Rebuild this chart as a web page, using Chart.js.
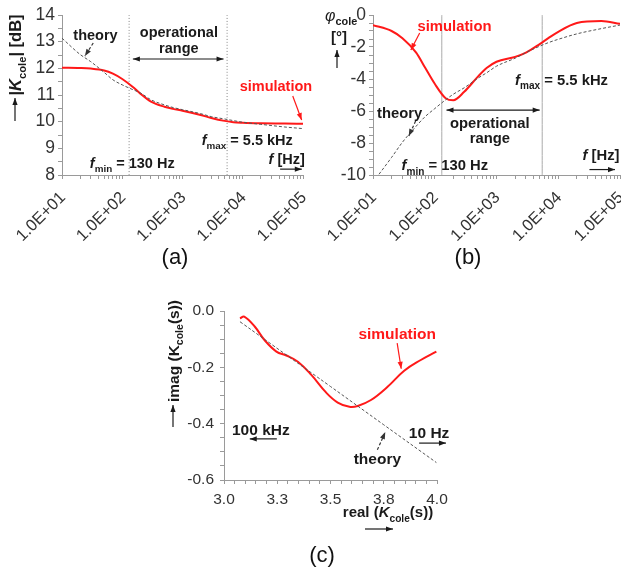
<!DOCTYPE html>
<html>
<head>
<meta charset="utf-8">
<script src="https://cdn.jsdelivr.net/npm/chart.js@4.4.0/dist/chart.umd.min.js"></script>
<style>
  html, body { margin: 0; padding: 0; background: #fff; overflow: hidden; }
  #wrap { position: relative; width: 621px; height: 569px; background: #fff; }
  canvas { position: absolute; }
  .panel { position: absolute; font: 22px "Liberation Sans", Arial, sans-serif; color: #111; transform: translate(-50%, -50%); }
</style>
</head>
<body>
<div id="wrap">
  <canvas id="chartA" width="330" height="250" style="left:0px;top:0px"></canvas>
  <canvas id="chartB" width="311" height="250" style="left:310px;top:0px"></canvas>
  <canvas id="chartC" width="320" height="289" style="left:140px;top:280px"></canvas>
  <div class="panel" style="left:175px;top:257px">(a)</div>
  <div class="panel" style="left:468px;top:257px">(b)</div>
  <div class="panel" style="left:322px;top:555px">(c)</div>
</div>
<script>
const freq = [10, 20, 30, 50, 70, 100, 150, 200, 300, 500, 700, 1000, 2000, 3000, 5000, 7000, 10000, 20000, 50000, 100000];
const magSim    = [12.02, 12.01, 11.99, 11.92, 11.80, 11.60, 11.30, 11.05, 10.75, 10.56, 10.48, 10.41, 10.25, 10.14, 10.03, 9.98, 9.96, 9.94, 9.93, 9.92];
const magTheory = [13.13, 12.52, 12.25, 11.85, 11.57, 11.38, 11.20, 11.08, 10.82, 10.63, 10.53, 10.45, 10.30, 10.19, 10.10, 10.04, 9.98, 9.90, 9.80, 9.74];
const phaseSim    = [-0.63, -1.0, -1.45, -2.35, -3.3, -4.3, -5.2, -5.33, -4.8, -3.85, -3.3, -2.92, -2.62, -2.35, -1.82, -1.43, -1.05, -0.5, -0.38, -0.55];
const phaseTheory = [-10.45, -8.9, -7.95, -6.95, -6.35, -5.85, -5.3, -4.95, -4.55, -3.95, -3.6, -3.2, -2.7, -2.35, -1.95, -1.72, -1.52, -1.18, -0.85, -0.63];

// (c) nyquist
const reSim = [3.075, 3.095, 3.145, 3.19, 3.246, 3.293, 3.347, 3.41, 3.48, 3.534, 3.589, 3.628, 3.69, 3.768, 3.846, 3.924, 3.997];
const imSim = [-0.026, -0.020, -0.056, -0.103, -0.144, -0.158, -0.180, -0.227, -0.290, -0.325, -0.340, -0.337, -0.316, -0.269, -0.212, -0.174, -0.144];
const reTheory = [3.075, 3.3, 3.5, 3.75, 3.997];
const imTheory = [-0.038, -0.160, -0.268, -0.404, -0.538];

const fMin = 130, fMax = 5500;
const decades = [10, 100, 1000, 10000, 100000];
const decadeLabels = ['1.0E+01', '1.0E+02', '1.0E+03', '1.0E+04', '1.0E+05'];
const reTickLabels = ['3.0', '3.3', '3.5', '3.8', '4.0'];

const FONT = '"Liberation Sans", Arial, Helvetica, sans-serif';
const INK = '#1a1a1a';
const RED = 'rgb(255,25,25)';
const AXIS = '#9a9a9a';

const logTicks = [];
decades.forEach(d => {
  for (let k = 1; k <= 9; k++) { if (k * d <= 100000) logTicks.push(k * d); }
});

const pts = (xs, ys) => xs.map((x, i) => ({x: x, y: ys[i]}));

function head(ctx, x1, y1, x2, y2) {
  const a = Math.atan2(y2 - y1, x2 - x1), L = 7, W = 2.6;
  ctx.beginPath();
  ctx.moveTo(x2, y2);
  ctx.lineTo(x2 - L * Math.cos(a) + W * Math.sin(a), y2 - L * Math.sin(a) - W * Math.cos(a));
  ctx.lineTo(x2 - L * Math.cos(a) - W * Math.sin(a), y2 - L * Math.sin(a) + W * Math.cos(a));
  ctx.closePath();
  ctx.fill();
}
function arrow(ctx, a, b, color, dash, both) {
  ctx.save();
  ctx.strokeStyle = color; ctx.fillStyle = color; ctx.lineWidth = 1.2;
  ctx.setLineDash(dash || []);
  ctx.beginPath(); ctx.moveTo(a[0], a[1]); ctx.lineTo(b[0], b[1]); ctx.stroke();
  ctx.setLineDash([]);
  head(ctx, a[0], a[1], b[0], b[1]);
  if (both) head(ctx, b[0], b[1], a[0], a[1]);
  ctx.restore();
}
// segs: [text, style] style letters: b bold, i italic, s subscript
function rich(ctx, p, segs, size, align, color) {
  let w = 0;
  const parts = segs.map(([t, st]) => {
    st = st || 'b';
    const sub = st.includes('s');
    const fs = sub ? size * 0.68 : size;
    const font = (st.includes('i') ? 'italic ' : '') + (st.includes('b') ? 'bold ' : '') + fs + 'px ' + FONT;
    ctx.font = font;
    const tw = ctx.measureText(t).width;
    w += tw;
    return {t: t, font: font, tw: tw, dy: sub ? size * 0.28 : 0};
  });
  let x = align === 'center' ? p[0] - w / 2 : align === 'right' ? p[0] - w : p[0];
  const y = p[1] + size * 0.36;
  ctx.save();
  ctx.fillStyle = color || INK; ctx.textAlign = 'left'; ctx.textBaseline = 'alphabetic';
  parts.forEach(q => { ctx.font = q.font; ctx.fillText(q.t, x, y + q.dy); x += q.tw; });
  ctx.restore();
}
function rotRich(ctx, p, segs, size) {
  ctx.save();
  ctx.translate(p[0], p[1]);
  ctx.rotate(-Math.PI / 2);
  rich(ctx, [0, 0], segs, size, 'center');
  ctx.restore();
}

function overlay(draw) {
  return {
    id: 'overlay',
    afterDatasetsDraw(chart) {
      const sx = chart.scales.x, sy = chart.scales.y;
      const P = (x, y) => [sx.getPixelForValue(x), sy.getPixelForValue(y)];
      draw(chart.ctx, P);
    }
  };
}

function yAxis(min, max, step, width, size, label, pad) {
  return {
    min: min, max: max,
    border: {color: AXIS},
    grid: {drawOnChartArea: false, tickLength: 4, color: AXIS},
    ticks: {stepSize: step, autoSkip: false, padding: pad, color: '#333', font: {family: FONT, size: size}, callback: label},
    afterFit: s => { s.width = width; s.paddingTop = 0; s.paddingBottom = 0; }
  };
}
function logAxis(height) {
  return {
    type: 'logarithmic', min: 10, max: 100000,
    border: {color: AXIS},
    grid: {drawOnChartArea: false, tickLength: 4, color: AXIS},
    afterBuildTicks: s => { s.ticks = logTicks.map(v => ({value: v})); },
    ticks: {
      autoSkip: false, minRotation: 45, maxRotation: 45, padding: 9, labelOffset: 1, color: '#333',
      font: {family: FONT, size: 16.5},
      callback: v => { const i = decades.indexOf(v); return i >= 0 ? decadeLabels[i] : ''; }
    },
    afterFit: s => { s.height = height; s.paddingLeft = 0; s.paddingRight = 0; }
  };
}
function lineSet(data, color, width, dash) {
  return {data: data, borderColor: color, borderWidth: width, borderDash: dash || [], pointRadius: 0,
          cubicInterpolationMode: 'monotone', fill: false};
}
const baseOpts = (pad) => ({
  responsive: false, animation: false,
  layout: {padding: pad},
  plugins: {legend: {display: false}, tooltip: {enabled: false}}
});

// (a) magnitude
const optsA = baseOpts({left: 0, right: 27, top: 15, bottom: 0});
optsA.scales = {
  x: logAxis(75),
  y: yAxis(8, 14, 0.5, 62, 17.5, v => Number.isInteger(v) ? String(v) : '', 3)
};
new Chart(document.getElementById('chartA'), {
  type: 'line',
  data: {datasets: [
    lineSet(pts(freq, magTheory), '#555', 1, [3, 2]),
    lineSet(pts(freq, magSim), RED, 2),
    lineSet([{x: fMin, y: 8}, {x: fMin, y: 14}], '#888', 1, [1, 2]),
    lineSet([{x: fMax, y: 8}, {x: fMax, y: 14}], '#888', 1, [1, 2])
  ]},
  options: optsA,
  plugins: [overlay((ctx, P) => {
    rich(ctx, P(36, 13.25), [['theory']], 14.5, 'center');
    arrow(ctx, P(33, 12.95), P(24, 12.46), '#333', [3, 2]);
    rich(ctx, P(870, 13.36), [['operational']], 14.5, 'center');
    rich(ctx, P(870, 12.76), [['range']], 14.5, 'center');
    arrow(ctx, P(150, 12.35), P(4800, 12.35), INK, null, true);
    rich(ctx, P(35500, 11.34), [['simulation']], 14.5, 'center', RED);
    arrow(ctx, P(67600, 10.96), P(95000, 10.06), RED);
    rich(ctx, P(2090, 9.31), [['f', 'bi'], ['max', 'bs'], [' = 5.5 kHz']], 14.5, 'left');
    rich(ctx, P(29, 8.45), [['f', 'bi'], ['min', 'bs'], [' = 130 Hz']], 14.5, 'left');
    rich(ctx, P(107000, 8.62), [['f', 'bi'], [' [Hz]']], 14.5, 'right');
    arrow(ctx, P(41700, 8.22), P(95500, 8.22), INK);
    // axis title
    rotRich(ctx, [15, 55], [['|'], ['K', 'bi'], ['cole', 'bs'], ['| [dB]']], 16.5);
    arrow(ctx, [15, 121], [15, 98], INK);
  })]
});

// (b) phase
const optsB = baseOpts({left: 0, right: 1, top: 15, bottom: 0});
optsB.scales = {
  x: logAxis(75),
  y: yAxis(-10, 0, 0.5, 63, 17.5, v => (Number.isInteger(v) && v % 2 === 0) ? String(v) : '', 3)
};
new Chart(document.getElementById('chartB'), {
  type: 'line',
  data: {datasets: [
    lineSet(pts(freq, phaseTheory), '#555', 1, [3, 2]),
    lineSet(pts(freq, phaseSim), RED, 2),
    lineSet([{x: fMin, y: -10}, {x: fMin, y: 0}], '#aaa', 1),
    lineSet([{x: fMax, y: -10}, {x: fMax, y: 0}], '#aaa', 1)
  ]},
  options: optsB,
  plugins: [overlay((ctx, P) => {
    rich(ctx, P(209, -0.69), [['simulation']], 14.8, 'center', RED);
    arrow(ctx, P(57, -1.13), P(41, -2.19), RED);
    rich(ctx, P(27, -6.13), [['theory']], 14.8, 'center');
    arrow(ctx, P(49, -6.63), P(38, -7.56), '#333', [3, 2]);
    arrow(ctx, P(155, -5.94), P(5000, -5.94), INK, null, true);
    rich(ctx, P(780, -6.75), [['operational']], 14.8, 'center');
    rich(ctx, P(780, -7.69), [['range']], 14.8, 'center');
    rich(ctx, P(2000, -4.06), [['f', 'bi'], ['max', 'bs'], [' = 5.5 kHz']], 14.8, 'left');
    rich(ctx, P(29, -9.38), [['f', 'bi'], ['min', 'bs'], [' = 130 Hz']], 14.8, 'left');
    rich(ctx, P(98000, -8.75), [['f', 'bi'], [' [Hz]']], 14.8, 'right');
    arrow(ctx, P(32000, -9.66), P(83000, -9.66), INK);
    // axis title
    rich(ctx, [15, 15], [['\u03c6', 'i'], ['cole', 'bs']], 16, 'left');
    rich(ctx, [29, 37], [['[\u00b0]']], 15, 'center');
    arrow(ctx, [27, 68], [27, 50], INK);
  })]
});

// (c) nyquist
const optsC = baseOpts({left: 0, right: 23, top: 31, bottom: 0});
optsC.scales = {
  x: {
    type: 'linear', min: 3, max: 4,
    border: {color: AXIS},
    grid: {drawOnChartArea: false, tickLength: 4, color: AXIS},
    ticks: {
      stepSize: 0.05, autoSkip: false, maxRotation: 0, padding: 6, color: '#333', font: {family: FONT, size: 15.5},
      callback: v => { const k = (v - 3) / 0.25; return Math.abs(k - Math.round(k)) < 1e-6 ? reTickLabels[Math.round(k)] : ''; }
    },
    afterFit: s => { s.height = 89; s.paddingLeft = 0; s.paddingRight = 0; }
  },
  y: yAxis(-0.6, 0, 0.05, 84, 15.5, v => { const k = v / 0.2; return Math.abs(k - Math.round(k)) < 1e-6 ? v.toFixed(1) : ''; }, 6)
};
const smooth = d => Object.assign(d, {showLine: true, cubicInterpolationMode: 'default', tension: 0.4});
new Chart(document.getElementById('chartC'), {
  type: 'scatter',
  data: {datasets: [
    smooth(lineSet(pts(reTheory, imTheory), '#555', 1, [3, 2])),
    smooth(lineSet(pts(reSim, imSim), RED, 2))
  ]},
  options: optsC,
  plugins: [overlay((ctx, P) => {
    rich(ctx, P(3.813, -0.078), [['simulation']], 15.5, 'center', RED);
    arrow(ctx, P(3.813, -0.114), P(3.832, -0.205), RED);
    rich(ctx, P(3.72, -0.522), [['theory']], 15.5, 'center');
    arrow(ctx, P(3.72, -0.493), P(3.757, -0.430), '#333', [3, 2]);
    rich(ctx, P(3.173, -0.419), [['100 kHz']], 15.5, 'center');
    arrow(ctx, P(3.248, -0.454), P(3.121, -0.454), INK);
    rich(ctx, P(3.963, -0.430), [['10 Hz']], 15.5, 'center');
    arrow(ctx, P(3.916, -0.469), P(4.042, -0.469), INK);
    // axis titles
    rotRich(ctx, [33, 71], [['imag (K'], ['cole', 'bs'], ['(s))']], 15.5);
    arrow(ctx, [33, 147], [33, 125], INK);
    rich(ctx, [248, 232], [['real ('], ['K', 'bi'], ['cole', 'bs'], ['(s))']], 15, 'center');
    arrow(ctx, [225, 249], [253, 249], INK);
  })]
});
</script>
</body>
</html>
